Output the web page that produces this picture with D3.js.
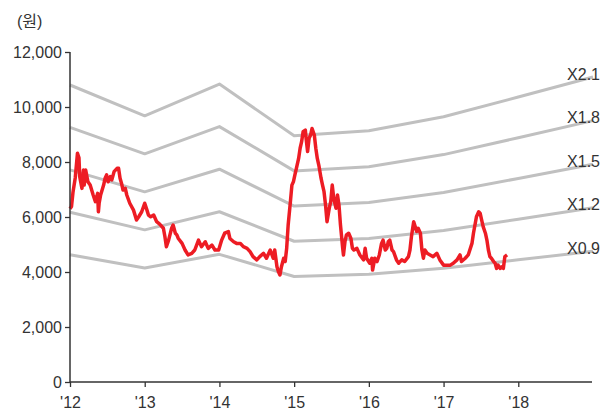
<!DOCTYPE html>
<html>
<head>
<meta charset="utf-8">
<script src="https://cdn.jsdelivr.net/npm/d3@7"></script>
<style>
  html, body { margin: 0; padding: 0; background: #fff; }
  svg text { font-family: "Liberation Sans", "Noto Sans CJK KR", sans-serif; fill: #333; }
</style>
</head>
<body>
<svg id="chart" width="611" height="418"></svg>
<script>
// Share price (원), dates as decimal years
const priceYears = [
  2012.00, 2012.02, 2012.04, 2012.07, 2012.10, 2012.12, 2012.13, 2012.16, 2012.18, 2012.19,
  2012.21, 2012.24, 2012.27, 2012.31, 2012.34, 2012.37, 2012.38, 2012.39, 2012.41, 2012.45,
  2012.47, 2012.49, 2012.51, 2012.54, 2012.56, 2012.59, 2012.63, 2012.65, 2012.67, 2012.69,
  2012.71, 2012.74, 2012.76, 2012.80, 2012.85, 2012.89, 2012.92, 2012.96, 2013.00, 2013.03,
  2013.05, 2013.08, 2013.12, 2013.16, 2013.20, 2013.25, 2013.27, 2013.29, 2013.32, 2013.36,
  2013.38, 2013.41, 2013.43, 2013.45, 2013.50, 2013.54, 2013.58, 2013.63, 2013.67, 2013.72,
  2013.76, 2013.81, 2013.85, 2013.90, 2013.94, 2013.99, 2014.03, 2014.07, 2014.12, 2014.14,
  2014.19, 2014.23, 2014.28, 2014.32, 2014.37, 2014.41, 2014.45, 2014.50, 2014.54, 2014.59,
  2014.63, 2014.68, 2014.72, 2014.74, 2014.77, 2014.79, 2014.81, 2014.83, 2014.86, 2014.88,
  2014.90, 2014.92, 2014.95, 2014.97, 2014.99, 2015.01, 2015.03, 2015.06, 2015.08, 2015.10,
  2015.12, 2015.15, 2015.16, 2015.18, 2015.20, 2015.22, 2015.24, 2015.27, 2015.29, 2015.31,
  2015.33, 2015.36, 2015.38, 2015.40, 2015.42, 2015.44, 2015.47, 2015.49, 2015.51, 2015.53,
  2015.56, 2015.58, 2015.60, 2015.62, 2015.65, 2015.66, 2015.68, 2015.70, 2015.73, 2015.76,
  2015.78, 2015.80, 2015.84, 2015.88, 2015.93, 2015.95, 2015.97, 2016.01, 2016.04, 2016.05,
  2016.08, 2016.11, 2016.14, 2016.17, 2016.19, 2016.22, 2016.24, 2016.26, 2016.28, 2016.31,
  2016.33, 2016.37, 2016.40, 2016.44, 2016.48, 2016.53, 2016.55, 2016.57, 2016.60, 2016.62,
  2016.64, 2016.66, 2016.69, 2016.71, 2016.73, 2016.75, 2016.78, 2016.82, 2016.86, 2016.91,
  2016.95, 2017.00, 2017.04, 2017.09, 2017.13, 2017.18, 2017.22, 2017.24, 2017.29, 2017.33,
  2017.38, 2017.40, 2017.42, 2017.44, 2017.47, 2017.49, 2017.51, 2017.53, 2017.56, 2017.58,
  2017.60, 2017.62, 2017.64, 2017.67, 2017.69, 2017.71, 2017.73, 2017.76, 2017.78, 2017.80,
  2017.82, 2017.85
];
const priceValues = [
  6300, 6380, 6900, 7420, 8320, 8150, 7470, 7040, 7710, 7160,
  7710, 7280, 7160, 6800, 6560, 6860, 6190, 6500, 6800, 7160,
  7410, 7530, 7280, 7470, 7350, 7650, 7770, 7770, 7410, 7220,
  6980, 7040, 6800, 6500, 6250, 5890, 6010, 6190, 6500, 6250,
  6070, 6010, 6070, 5830, 5740, 5590, 5290, 4920, 5160, 5590,
  5710, 5410, 5350, 5220, 5040, 4800, 4620, 4680, 4800, 5160,
  4920, 5100, 4860, 4980, 4800, 4800, 5160, 5410, 5470, 5220,
  5100, 5040, 5040, 4920, 4860, 4740, 4560, 4440, 4560, 4680,
  4500, 4800, 4500, 4800, 4190, 4010, 3890, 4190, 4500, 4380,
  4860, 5710, 6560, 7160, 7280, 7530, 7770, 8130, 8500, 8740,
  9100, 9160, 8860, 8380, 8860, 8980, 9220, 8980, 8500, 8130,
  7890, 7410, 7160, 6920, 6440, 5830, 6320, 6560, 7160, 6680,
  6320, 6800, 6440, 5710, 4860, 4620, 5100, 5350, 5410, 5220,
  4860, 4800, 4860, 4620, 4440, 4860, 4500, 4320, 4500, 4070,
  4500, 4380, 4620, 5040, 5160, 4800, 4860, 5100, 5160, 4800,
  4740, 4440, 4320, 4440, 4380, 4560, 4800, 5290, 5830, 5650,
  5470, 5590, 5410, 4800, 4500, 4800, 4680, 4620, 4560, 4680,
  4440, 4250, 4250, 4250, 4320, 4440, 4620, 4380, 4500, 4620,
  5040, 5410, 5710, 6010, 6190, 6130, 5890, 5650, 5410, 5160,
  4800, 4560, 4500, 4380, 4320, 4130, 4250, 4130, 4190, 4130,
  4560, 4620
];

// Book value per share at each year mark, and the PBR band multiples
const bpsYears = [2012, 2013, 2014, 2015, 2016, 2017, 2018, 2019];
const bpsValues = [5143, 4610, 5159, 4265, 4350, 4594, 4935, 5281];
const bandMultiples = [2.1, 1.8, 1.5, 1.2, 0.9];
const bandLabels = ["X2.1", "X1.8", "X1.5", "X1.2", "X0.9"];

// Axis ticks
const yTicks = [0, 2000, 4000, 6000, 8000, 10000, 12000];
const xTicks = [2012, 2013, 2014, 2015, 2016, 2017, 2018];
const xTickLabels = ["'12", "'13", "'14", "'15", "'16", "'17", "'18"];
const unitLabel = "(원)";

const svg = d3.select("#chart");
const x = d3.scaleLinear().domain([2012, 2019]).range([70, 593]);
const y = d3.scaleLinear().domain([0, 12000]).range([382, 52]);

// PBR band lines
const bandLine = d3.line().x(d => x(d[0])).y(d => y(d[1]));
bandMultiples.forEach((m, i) => {
  const pts = bpsYears.map((yr, j) => [yr, bpsValues[j] * m]);
  svg.append("path")
    .attr("d", bandLine(pts))
    .attr("fill", "none")
    .attr("stroke", "#c0c0c0")
    .attr("stroke-width", 3)
    .attr("stroke-linejoin", "round");
  const last = pts[pts.length - 1];
  svg.append("text")
    .attr("x", 600)
    .attr("y", y(last[1]) - 3)
    .attr("text-anchor", "end")
    .attr("dominant-baseline", "central")
    .attr("font-size", 16)
    .text(bandLabels[i]);
});

// Share price line
const priceData = priceYears.map((t, i) => [t, priceValues[i]]);
svg.append("path")
  .attr("d", d3.line().x(d => x(d[0])).y(d => y(d[1]))(priceData))
  .attr("fill", "none")
  .attr("stroke", "#ed1c24")
  .attr("stroke-width", 3.5)
  .attr("stroke-linejoin", "round");

// Y axis
const yAxis = svg.append("g")
  .attr("transform", "translate(70,0)")
  .call(d3.axisLeft(y).tickValues(yTicks).tickSize(5).tickPadding(3)
    .tickFormat(d3.format(",")));
yAxis.select(".domain").attr("stroke", "#333").attr("stroke-width", 1.5).attr("d", "M0,52V382");
yAxis.selectAll(".tick line").attr("stroke", "#333").attr("stroke-width", 1.3);
yAxis.selectAll(".tick text").attr("font-size", 16).attr("fill", "#333")
  .style("font-family", "'Liberation Sans', sans-serif");

// X axis
const xAxis = svg.append("g")
  .attr("transform", "translate(0,382)")
  .call(d3.axisBottom(x).tickValues(xTicks).tickSize(5).tickPadding(10)
    .tickFormat((d, i) => xTickLabels[i]));
xAxis.select(".domain").attr("stroke", "#333").attr("stroke-width", 1.5).attr("d", "M70,0H592");
xAxis.selectAll(".tick line").attr("stroke", "#333").attr("stroke-width", 1.3);
xAxis.selectAll(".tick text").attr("font-size", 16).attr("fill", "#333")
  .style("font-family", "'Liberation Sans', sans-serif");

// Unit label
svg.append("text")
  .attr("x", 17)
  .attr("y", 27)
  .attr("font-size", 16)
  .text(unitLabel);
</script>
</body>
</html>
